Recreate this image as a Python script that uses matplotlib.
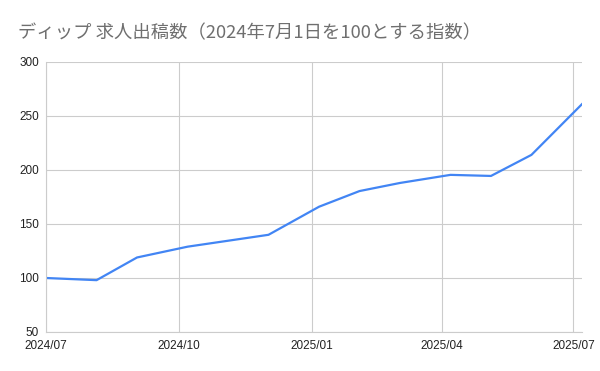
import numpy as np
import matplotlib
matplotlib.use("Agg")
import matplotlib.pyplot as plt

# 求人出稿数の指数 (2024/07/01 = 100)
dates = ["2024-07-01", "2024-08-05", "2024-09-02", "2024-10-07", "2024-11-04",
         "2024-12-02", "2025-01-06", "2025-02-03", "2025-03-03", "2025-04-07",
         "2025-05-05", "2025-06-02", "2025-07-07"]
index = [100, 98, 119, 129, 134.5, 140, 166, 180.5, 188, 195.5, 194.5, 214, 261]
tick_dates = ["2024-07-01", "2024-10-01", "2025-01-01", "2025-04-01", "2025-07-01"]
tick_labels = ["2024/07", "2024/10", "2025/01", "2025/04", "2025/07"]
yticks = [50, 100, 150, 200, 250, 300]
title = "ディップ 求人出稿数（2024年7月1日を100とする指数）"

x = np.array(dates, dtype="datetime64[D]")
xt = np.array(tick_dates, dtype="datetime64[D]")

fig = plt.figure(figsize=(6, 3.71), dpi=100)
ax = fig.add_axes([46/600, 39/371, 536/600, 270/371])

ax.plot(x, index, color="#4285F4", lw=1.6, solid_joinstyle="round")

ax.set_xlim(x[0], x[-1])
ax.set_ylim(50, 300)
ax.set_yticks(yticks)
ax.set_xticks(xt)
ax.set_xticklabels(tick_labels)
ax.grid(True, color="#cccccc", lw=0.8)
ax.set_axisbelow(True)
for s in ["top", "right"]:
    ax.spines[s].set_visible(False)
for s in ["left", "bottom"]:
    ax.spines[s].set_color("#cccccc")
    ax.spines[s].set_linewidth(0.8)
ax.tick_params(length=0, labelsize=8.5, colors="#222222")
ax.tick_params(axis="x", pad=6)
ax.tick_params(axis="y", pad=5)
for lab in ax.get_xticklabels() + ax.get_yticklabels():
    lab.set_family(["Liberation Sans", "DejaVu Sans"])

fig.text(18/600, 1 - 33/371, title, fontsize=13.2, color="#6f6f6f",
         family=["Noto Sans CJK JP", "DejaVu Sans"], va="center", ha="left")

fig.savefig("out.png", dpi=100, facecolor="white")
